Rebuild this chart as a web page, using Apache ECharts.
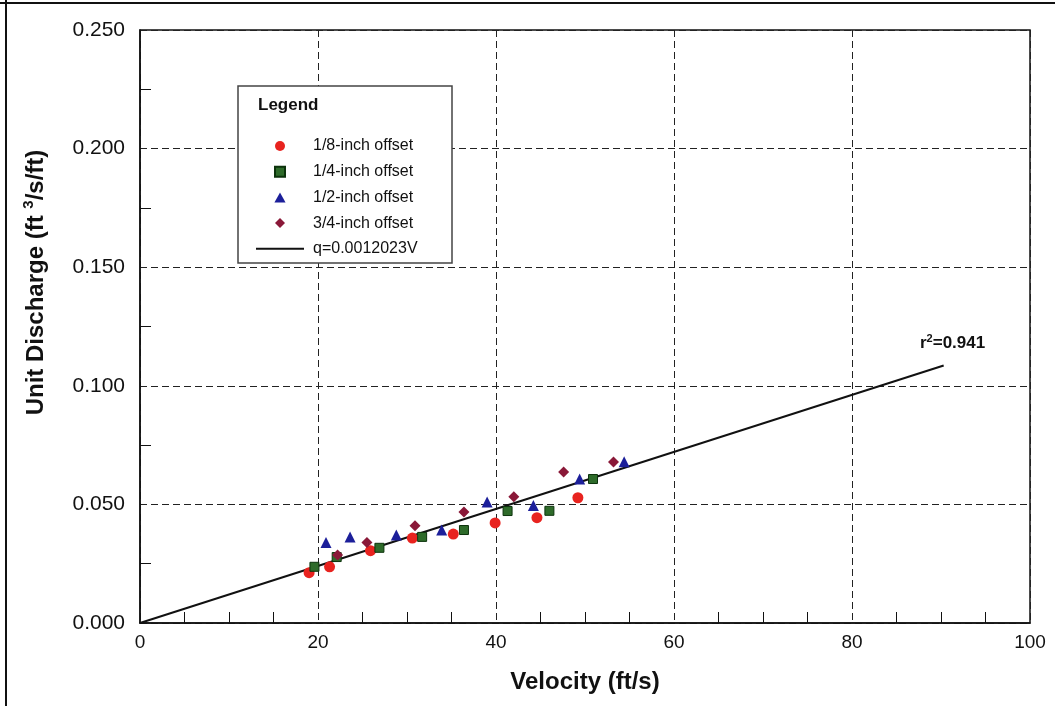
<!DOCTYPE html>
<html>
<head>
<meta charset="utf-8">
<script src="https://cdn.jsdelivr.net/npm/echarts@6/dist/echarts.min.js"></script>
<style>
  html, body { margin: 0; padding: 0; background: #fff; }
  #chart { width: 1055px; height: 706px; }
</style>
</head>
<body>
<div id="chart"></div>
<script>
// [velocity ft/s, unit discharge ft3/s/ft]
const offset18 = [[19.0, 0.0212], [21.3, 0.0237], [25.9, 0.0305], [30.6, 0.0358], [35.2, 0.0375], [39.9, 0.0422], [44.6, 0.0444], [49.2, 0.0528]]
const offset14 = [[19.6, 0.0237], [22.1, 0.0278], [26.9, 0.0317], [31.7, 0.0363], [36.4, 0.0392], [41.3, 0.0472], [46.0, 0.0473], [50.9, 0.0607]]
const offset12 = [[20.9, 0.0339], [23.6, 0.0363], [28.8, 0.0371], [33.9, 0.0392], [39.0, 0.0510], [44.2, 0.0495], [49.4, 0.0607], [54.4, 0.0680]]
const offset34 = [[22.2, 0.0287], [25.5, 0.0339], [30.9, 0.0410], [36.4, 0.0468], [42.0, 0.0532], [47.6, 0.0637], [53.2, 0.0679]]
const fitSlope = 0.0012023
const fitRange = [0, 90.3]
const fitLine = fitRange.map(v => [v, fitSlope * v])
const r2Pos = [91.3, 0.118]

const font = '"Liberation Sans", Arial, sans-serif'
const chart = echarts.init(document.getElementById('chart'))

const scatter = (name, data, symbol, size, color, border) => ({
  name, type: 'scatter', data, symbol, symbolSize: size, z: 3,
  itemStyle: { color, borderColor: border || color, borderWidth: border ? 1 : 0, opacity: 1 },
})

// legend icons as paths so they keep their aspect inside the wide icon box
const iconSquare = 'path://M0,0H1V1H0Z'
const iconTriangle = 'path://M0.5,0L1,0.9H0Z'
const iconDiamond = 'path://M0.5,0L1,0.5L0.5,1L0,0.5Z'

chart.setOption({
  backgroundColor: '#fff',
  animation: false,
  textStyle: { fontFamily: font },
  grid: { left: 140, right: 25, top: 30, bottom: 83, show: true, borderColor: '#111', borderWidth: 1.5 },
  xAxis: {
    type: 'value', min: 0, max: 100, interval: 20,
    name: 'Velocity (ft/s)', nameLocation: 'middle', nameGap: 47,
    nameTextStyle: { fontSize: 24, fontWeight: 'bold', color: '#111', fontFamily: font },
    axisLine: { lineStyle: { color: '#111', width: 1.5 } },
    axisTick: { show: false, inside: true },
    minorTick: { show: true, splitNumber: 4, length: 11, lineStyle: { color: '#111', width: 1 } },
    axisLabel: { fontSize: 19, color: '#111', margin: 10 },
    splitLine: { lineStyle: { color: '#222', type: [7, 4], width: 1 } },
  },
  yAxis: {
    type: 'value', min: 0, max: 0.25, interval: 0.05,
    name: '{a|Unit Discharge (ft }{s|3}{a|/s/ft)}', nameLocation: 'middle', nameGap: 89,
    nameTextStyle: {
      padding: [0, 0, 0, 88],
      rich: {
        a: { fontSize: 24, fontWeight: 'bold', color: '#111', fontFamily: font, lineHeight: 30 },
        s: { fontSize: 15, fontWeight: 'bold', color: '#111', fontFamily: font, lineHeight: 15, verticalAlign: 'top' },
      },
    },
    axisLine: { lineStyle: { color: '#111', width: 1.5 } },
    axisTick: { show: false, inside: true },
    minorTick: { show: true, splitNumber: 2, length: 11, lineStyle: { color: '#111', width: 1 } },
    axisLabel: { fontSize: 21, color: '#111', margin: 15, formatter: v => v.toFixed(3) },
    splitLine: { lineStyle: { color: '#222', type: [7, 4], width: 1 } },
  },
  legend: {
    orient: 'vertical', left: 250, top: 133,
    itemWidth: 48, itemHeight: 10, itemGap: 9.7, symbolKeepAspect: true,
    textStyle: { fontSize: 16, color: '#111', lineHeight: 16, padding: [0, 0, 0, 4] },
    data: [
      { name: '1/8-inch offset', icon: 'circle' },
      { name: '1/4-inch offset', icon: iconSquare },
      { name: '1/2-inch offset', icon: iconTriangle },
      { name: '3/4-inch offset', icon: iconDiamond },
      { name: 'q=0.0012023V', itemStyle: { opacity: 0 } },
    ],
  },
  graphic: [
    { type: 'line', shape: { x1: 0, y1: 3, x2: 1055, y2: 3 }, style: { stroke: '#111', lineWidth: 2 } },
    { type: 'line', shape: { x1: 6, y1: 0, x2: 6, y2: 706 }, style: { stroke: '#111', lineWidth: 2 } },
    { type: 'rect', z: 3, shape: { x: 238, y: 86, width: 214, height: 177 },
      style: { fill: '#fff', stroke: '#444', lineWidth: 1.5 } },
    { type: 'text', z: 4, left: 258, top: 97,
      style: { text: 'Legend', fontSize: 17, fontWeight: 'bold', fill: '#111', fontFamily: font } },
  ],
  series: [
    scatter('1/8-inch offset', offset18, 'circle', 11, '#e8231f'),
    scatter('1/4-inch offset', offset14, 'rect', 9, '#2e6b2a', '#0c330c'),
    scatter('1/2-inch offset', offset12, 'triangle', 11, '#1c1f9a'),
    scatter('3/4-inch offset', offset34, 'diamond', 11, '#8a1838'),
    {
      name: 'q=0.0012023V', type: 'line', data: fitLine, showSymbol: false, symbol: 'none', z: 2,
      lineStyle: { color: '#111', width: 2 }, itemStyle: { color: '#111' },
      markPoint: {
        symbol: 'circle', symbolSize: 0,
        data: [{ coord: r2Pos }],
        label: {
          show: true, position: 'inside',
          formatter: '{a|r}{s|2}{a|=0.941}',
          rich: {
            a: { fontSize: 17, fontWeight: 'bold', color: '#111', fontFamily: font, lineHeight: 20 },
            s: { fontSize: 11, fontWeight: 'bold', color: '#111', fontFamily: font, lineHeight: 11, verticalAlign: 'top' },
          },
        },
      },
    },
  ],
})
</script>
</body>
</html>
